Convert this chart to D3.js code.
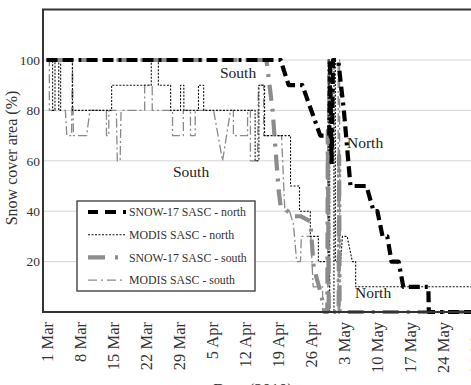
<!DOCTYPE html>
<html><head><meta charset="utf-8">
<script src="https://cdn.jsdelivr.net/npm/d3@7"></script>
<style>body{margin:0;background:#fff}svg{display:block}</style>
</head><body>
<script>
// ---- data (days since 1 Mar 2010, percent) ----
const tickDays = [0,7,14,21,28,35,42,49,56,63,70,77,84,91];
const tickLabels = ["1 Mar","8 Mar","15 Mar","22 Mar","29 Mar","5 Apr","12 Apr","19 Apr","26 Apr","3 May","10 May","17 May","24 May","31 May"];
const yTicks = [20,40,60,80,100];

const snowNorthDay = [0,49.6,51.3,54.2,58,59.9,60.1,60.4,60.7,61.8,63.0,64.4,67.8,69.3,70.1,71.2,72.2,73.1,74.6,75.6,80.9,81.0,91];
const snowNorthVal = [100,100,90,90,70,70,100,58,100,100,80,50,50,40,40,30,30,20,20,10,10,0,0];

const modisNorthDay = [0,1.3,1.3,1.8,1.8,2.6,2.6,3.0,3.0,5.5,5.5,13.8,13.8,22.2,22.2,23.7,23.7,26.3,26.3,28.4,28.4,29.1,29.1,32.2,32.2,33.3,33.3,44.2,44.2,45.0,45.0,46.2,46.2,51.7,51.7,53.6,53.6,55.9,55.9,57.6,57.6,59.7,59.7,60.0,60.0,60.9,60.9,61.2,61.2,62.3,62.7,63.7,64.8,65.5,65.5,91];
const modisNorthVal = [100,100,80,80,100,100,80,80,100,100,80,80,90,90,100,100,90,90,80,80,90,90,80,80,90,90,80,80,60,60,90,90,70,70,50,50,40,40,30,30,20,20,100,100,0,0,100,100,20,20,30,30,20,20,10,10];

const snowSouthDay = [0,46.6,47.9,48.7,49.2,49.6,51.1,52.1,53.8,55.9,56.6,57.3,58.2,58.9,59.5,59.6,59.8,61.9,62.0,62.1,91];
const snowSouthVal = [100,100,80,60,48,42,40,38,38,36,18,13,7,0,0,72,0,0,62,0,0];

const modisSouthDay = [0,0.6,0.6,4.0,4.3,5.3,5.5,5.7,8.5,9.2,12.7,12.7,13.2,13.2,14.8,15.0,15.6,15.8,20.8,20.8,22.4,22.4,26.7,26.7,29.0,29.0,30.5,30.5,31.5,31.5,35.4,37.3,39.0,39.6,39.6,42.6,42.6,43.2,43.2,44.7,44.9,46.0,46.0,49.8,50.5,51.5,52.3,53.0,53.8,54.0,56.0,56.5,58.5,58.5,59.6,59.6,59.9,59.9,61.8,61.8,62.1,62.1,91];
const modisSouthVal = [100,100,80,80,70,70,100,70,70,80,80,70,70,80,80,60,60,80,80,90,90,80,80,70,70,80,80,70,70,80,80,60,80,80,70,70,80,80,60,60,90,90,70,70,40,40,35,20,20,30,30,10,10,0,0,100,100,0,0,100,100,0,0];

const seriesNames = ["SNOW-17 SASC - north","MODIS SASC - north","SNOW-17 SASC - south","MODIS SASC - south"];

// ---- chart ----
const FONT = "'Liberation Serif', 'Times New Roman', Times, serif";
const W = 471, H = 385;
const svg = d3.select("body").append("svg").attr("width", W).attr("height", H)
  .attr("font-family", FONT);
const x = d3.scaleLinear().domain([0, 91]).range([46.5, 46.5 + 91 * 4.72]);
const y = d3.scaleLinear().domain([0, 120]).range([312, 9.6]);
const pLeft = 43, pRight = 480, pTop = y(120), pBottom = y(0);

// gridlines
svg.append("g").selectAll("line").data(yTicks).join("line")
  .attr("x1", pLeft).attr("x2", pRight).attr("y1", d => y(d)).attr("y2", d => y(d))
  .attr("stroke", "#d4d4d4").attr("stroke-width", 1);

const styles = [
  {stroke:"#000", w:4.2, dash:"11,5,11,5,3,5"},
  {stroke:"#111", w:1.1, dash:"2,1.5"},
  {stroke:"#8c8c8c", w:4.2, dash:"16,8,3,8"},
  {stroke:"#8a8a8a", w:1.3, dash:"9,3,2,3"}
];
const data = [
  d3.zip(snowNorthDay, snowNorthVal),
  d3.zip(modisNorthDay, modisNorthVal),
  d3.zip(snowSouthDay, snowSouthVal),
  d3.zip(modisSouthDay, modisSouthVal)
];
const line = d3.line().x(d => x(d[0])).y(d => y(d[1]));
[3,1,2,0].forEach(i => {
  svg.append("path").datum(data[i]).attr("d", line).attr("fill", "none")
    .attr("stroke", styles[i].stroke).attr("stroke-width", styles[i].w)
    .attr("stroke-dasharray", styles[i].dash).attr("stroke-linejoin", "round");
});

// frame
svg.append("path").attr("d", `M${pRight},${pTop}H${pLeft}V${pBottom}H${pRight}`)
  .attr("fill", "none").attr("stroke", "#333").attr("stroke-width", 2);

// y axis
const ya = svg.append("g").attr("transform", `translate(${pLeft},0)`)
  .call(d3.axisLeft(y).tickValues(yTicks).tickSize(0).tickPadding(3));
ya.attr("font-family", FONT);
ya.select(".domain").remove();
ya.selectAll("text").attr("font-size", 13.5).attr("fill", "#333").style("font-family", FONT);

// x axis
const xa = svg.append("g").attr("transform", `translate(0,${pBottom})`)
  .call(d3.axisBottom(x).tickValues(tickDays).tickFormat((d, i) => tickLabels[i]).tickSize(0));
xa.attr("font-family", FONT);
xa.select(".domain").remove();
xa.selectAll("text").attr("font-size", 16.5).attr("fill", "#333").style("font-family", FONT)
  .attr("text-anchor", "end").attr("transform", "rotate(-90)")
  .attr("x", -10).attr("y", 0).attr("dy", "0.35em");

// axis titles
svg.append("text").attr("transform", `translate(17,158) rotate(-90)`)
  .attr("text-anchor", "middle").attr("font-size", 16).attr("fill", "#333").style("font-family", FONT)
  .text("Snow cover area (%)");
svg.append("text").attr("x", 253).attr("y", 395).attr("text-anchor", "middle")
  .attr("font-size", 16.5).attr("fill", "#333").style("font-family", FONT).text("Date (2010)");

// annotations
const notes = [["South",220,78],["South",173,177],["North",347,148],["North",355,298]];
svg.append("g").selectAll("text").data(notes).join("text")
  .attr("x", d => d[1]).attr("y", d => d[2]).attr("font-size", 15.5).attr("fill", "#222")
  .style("font-family", FONT).text(d => d[0]);

// legend
const lg = svg.append("g");
lg.append("rect").attr("x", 77).attr("y", 201).attr("width", 178).attr("height", 90)
  .attr("fill", "#fff").attr("stroke", "#444").attr("stroke-width", 1.4);
const legDash = ["10,7,11,7,3,20", "2,1.5", "17,10,3,20", "9,4,2,4"];
seriesNames.forEach((n, i) => {
  const yy = 212 + i * 22.7;
  lg.append("line").attr("x1", 88).attr("x2", 126).attr("y1", yy).attr("y2", yy)
    .attr("stroke", styles[i].stroke).attr("stroke-width", styles[i].w)
    .attr("stroke-dasharray", legDash[i]);
  lg.append("text").attr("x", 129).attr("y", yy).attr("dy", "0.35em")
    .attr("font-size", 11.8).attr("fill", "#333").style("font-family", FONT).text(n);
});
</script>
</body></html>
